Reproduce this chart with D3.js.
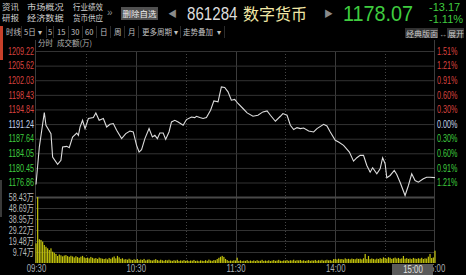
<!DOCTYPE html>
<html>
<head>
<meta charset="utf-8">
<script src="https://cdn.jsdelivr.net/npm/d3@7"></script>
<style>
body { margin: 0; background: #000; overflow: hidden; }
text { font-family: "Liberation Sans", "Noto Sans CJK SC", sans-serif; }
text.cjk { font-family: "Noto Sans CJK SC", sans-serif; }
</style>
</head>
<body>
<script>
// price line (minutes after 09:30, lunch break removed)
var lineMinutes = [0,2,5,6,9,10,13,15,16,18.5,20,22,24.5,25.5,26.5,28,29.5,31.5,34.5,36,
  38,40.5,42.5,44.5,46.5,48.5,51.5,54,56.5,58.5,60.5,62,63.5,65.5,68,70,71.5,73,74.5,76.5,
  78,80,81.5,83.5,85.5,88.5,90.5,93.5,95.5,96.5,98.5,100.5,102.5,105,107,109.5,111.5,113.5,115.5,117.5,
  119.5,121.5,124.5,127,130.5,133.5,136.5,139,141,144,147,148.5,151,153,155,157,159,161,164,167,
  169,173,175,177,180,182,185,188.5,191,193,195,197,199,201,202.5,205,207,208.5,210,211,
  213,215.5,217,219,222,224,226,228,230,233,235,237,240];
var linePrices = [1176.37,1185.58,1194.08,1190.94,1188.89,1183.11,1181.31,1182.30,1185.58,1185.75,1185.43,1188.05,1189.04,1188.47,1190.52,1192.18,1190.13,1192.60,1192.84,1193.98,
  1192.18,1192.60,1190.52,1191.19,1191.36,1189.71,1187.66,1188.89,1189.53,1189.29,1186.00,1184.35,1184.94,1187.66,1190.13,1188.05,1188.47,1187.66,1189.04,1189.04,
  1187.48,1189.29,1191.76,1192.18,1191.76,1190.94,1192.35,1192.99,1192.84,1193.16,1192.84,1192.60,1192.84,1194.65,1196.94,1196.70,1200.40,1200.25,1199.17,1197.12,
  1197.29,1196.30,1195.07,1193.98,1193.16,1193.41,1194.23,1194.47,1193.41,1191.93,1193.16,1193.83,1193.41,1190.94,1189.88,1190.37,1190.13,1190.27,1189.53,1189.29,
  1190.13,1191.19,1190.77,1189.29,1187.24,1186.82,1186.00,1184.35,1182.12,1182.96,1183.53,1183.53,1181.06,1179.40,1180.49,1179.01,1180.24,1182.96,1181.48,1178.02,
  1178.59,1179.82,1178.84,1176.93,1173.65,1176.12,1179.01,1177.35,1176.93,1177.77,1178.17,1178.17,1178.07];

// turnover per minute, 万
var volumes = [17.4,58.4,21.0,20.4,18.9,15.9,14.4,13.0,11.5,13.0,
  10.0,9.1,8.0,6.2,7.5,6.8,5.9,6.6,7.0,6.1,
  5.5,6.4,5.8,4.9,6.0,5.2,4.6,5.6,6.3,5.0,
  4.3,4.8,4.1,5.4,4.6,3.9,4.4,3.6,4.8,4.2,
  3.8,3.5,4.0,3.2,4.5,3.7,4.9,5.8,4.1,6.3,
  5.0,3.6,4.2,3.1,3.4,2.9,3.8,3.0,2.6,3.3,
  2.8,3.5,2.4,3.1,2.7,3.6,2.3,2.9,3.2,2.5,
  2.2,2.8,3.4,2.6,2.1,2.9,2.4,2.0,2.7,2.3,
  2.9,2.2,1.9,2.5,2.1,2.8,1.8,2.3,2.0,2.6,
  1.9,2.4,1.7,2.2,2.0,2.7,1.8,2.1,1.6,2.3,
  2.0,1.8,2.5,1.9,3.0,2.2,1.9,2.6,2.4,3.5,
  4.6,5.5,6.3,5.4,3.6,2.6,1.8,2.2,1.9,2.4,
  2.2,4.7,1.8,2.4,1.7,2.1,1.9,2.6,1.6,2.2,
  1.8,2.3,1.7,2.5,1.9,2.0,2.8,1.8,2.2,1.9,
  2.4,1.7,2.1,2.6,1.9,2.2,2.8,2.0,1.8,2.3,
  2.1,2.6,1.9,2.4,2.2,2.9,2.0,2.5,2.3,2.7,
  2.0,2.4,1.8,2.2,2.6,1.9,2.3,2.1,2.7,2.0,
  2.5,2.2,2.8,2.1,2.4,2.9,2.3,2.6,2.0,3.4,
  3.6,3.1,3.8,3.3,3.5,3.0,4.1,3.4,3.7,3.2,
  3.9,3.5,3.3,4.0,3.6,3.8,3.2,4.2,8.0,3.5,
  6.2,3.4,4.0,3.6,3.1,3.9,3.5,4.3,3.7,5.0,
  4.4,3.8,5.1,4.6,3.6,4.2,4.8,3.9,4.5,3.7,
  4.1,6.2,3.8,4.3,3.6,4.0,3.4,4.5,3.9,3.6,
  4.2,3.8,4.6,3.5,4.1,3.9,5.6,8.0,4.4,4.9,
  10.9];

var prevClose = 1191.24;
var priceTicks = [1209.22,1205.62,1202.03,1198.43,1194.84,1191.24,1187.64,1184.05,1180.45,1176.86];
var pctLabels = ["1.51%","1.21%","0.91%","0.60%","0.30%","0.00%","0.30%","0.60%","0.91%","1.21%"];
var volTicks = [58.43,48.69,38.95,29.22,19.48,9.74];
var timeTicks = [0,60,120,180,240];
var timeLabels = ["09:30","10:30","11:30","14:00","15:00"];
var halfHours = [30,60,90,120,150,180,210];

var red = "#d8433f", green = "#3fcc3f", flat = "#c4d4ec";

var svg = d3.select("body").append("svg")
    .attr("width", 466)
    .attr("height", 275);

var left = 36, right = 435;

var x = d3.scaleLinear().domain([0, 240]).range([left, right]);
var yPrice = d3.scaleLinear().domain([1176.86, 1209.22]).range([182.5, 51]);
var yVol = d3.scaleLinear().domain([0, 58.43]).range([263, 197]);

// squeeze text horizontally, the terminal font is narrow
function narrow(sel, k) {
  sel.each(function() {
    var w = this.getComputedTextLength();
    d3.select(this).attr("textLength", w * k).attr("lengthAdjust", "spacingAndGlyphs");
  });
}

function label(t, px, py, size, fill, cls) {
  return svg.append("text")
    .attr("class", cls || null)
    .attr("x", px).attr("y", py)
    .attr("fill", fill)
    .style("font-size", size + "px")
    .text(t);
}

// ---- header ----
label("资讯", 2, 9.5, 8.5, "#d0d0d0", "cjk");
label("研报", 2, 21, 8.5, "#d0d0d0", "cjk");
narrow(label("市场概况", 27, 9.5, 8.5, "#d0d0d0", "cjk"), 1.08);
narrow(label("经济数据", 27, 21, 8.5, "#d0d0d0", "cjk"), 1.08);
narrow(label("行业绩效", 73, 9.5, 8.5, "#d0d0d0", "cjk"), 0.88);
narrow(label("货币供应", 73, 21, 8.5, "#d0d0d0", "cjk"), 0.88);
label("»", 107, 16, 10, "#8a8a8a");

svg.append("rect").attr("x", 121).attr("y", 7).attr("width", 37).attr("height", 13).attr("fill", "#505050");
label("删除自选", 139.5, 17, 8.5, "#eeeeee", "cjk").attr("text-anchor", "middle");
label("◀", 168, 17, 9, "#8a8a8a");
narrow(label("861284", 187, 19.5, 18, "#dcdcdc"), 0.84);
label("数字货币", 243, 19.5, 16, "#f2e8a6", "cjk");
label("▶", 324, 17, 9, "#8a8a8a");
narrow(label("1178.07", 343, 20.5, 22, green), 0.9);
label("-13.17", 429, 10.5, 11, green);
label("-1.11%", 429, 22.5, 11, green);

// period tabs
svg.append("rect").attr("x", 0).attr("y", 26).attr("width", 3).attr("height", 34).attr("fill", "#c8402a");
var tabSeps = [21, 46, 53, 68, 82, 96, 110, 124, 138, 180, 224];
svg.selectAll(".tabsep").data(tabSeps).enter().append("line")
    .attr("x1", function(d) { return d + 0.5; }).attr("x2", function(d) { return d + 0.5; })
    .attr("y1", 26).attr("y2", 38)
    .attr("stroke", "#2c2c2c");
var tabs = [["时线",6],["5日",24],["▾",38],["5",48],["15",57],["30",71],["60",85],["日",100],["周",114],["月",128],
            ["更多周期",142],["▾",174],["走势叠加",183],["▾",217]];
tabs.forEach(function(t) { label(t[0], t[1], 35, 7.5, "#c0c0c0", "cjk"); });

svg.append("rect").attr("x", 405).attr("y", 28).attr("width", 33).attr("height", 10).attr("fill", "#303030");
label("经典版面", 406, 36.5, 8, "#c8c8c8", "cjk");
label("↔", 439, 36.5, 8, "#a0a0a0");
svg.append("rect").attr("x", 447).attr("y", 28).attr("width", 17).attr("height", 10).attr("fill", "#303030");
label("展开", 448, 36.5, 8, "#c8c8c8", "cjk");

label("分时", 38, 45.5, 7.5, "#b0b0b0", "cjk");
label("成交额(万)", 57, 45.5, 7.5, "#b0b0b0", "cjk");

svg.append("rect").attr("x", 0).attr("y", 180).attr("width", 2).attr("height", 37).attr("fill", "#3a3a3a");

// ---- grid & axes ----
svg.selectAll(".vgrid").data(halfHours).enter().append("line")
    .attr("x1", function(d) { return Math.round(x(d)) + 0.5; })
    .attr("x2", function(d) { return Math.round(x(d)) + 0.5; })
    .attr("y1", 51).attr("y2", 263)
    .attr("stroke", function(d) { return d % 60 == 0 ? "#3c3c3c" : "#444"; })
    .attr("stroke-dasharray", function(d) { return d % 60 == 0 ? null : "1,2"; });

var priceAxis = svg.append("g")
    .attr("transform", "translate(" + left + ",0)")
    .call(d3.axisLeft(yPrice).tickValues(priceTicks).tickSize(-(right - left)).tickPadding(2)
      .tickFormat(d3.format(".2f")));
priceAxis.select(".domain").remove();
priceAxis.selectAll("line").attr("stroke", "#333");
priceAxis.selectAll("text")
    .attr("fill", function(d) { return d > prevClose ? red : d < prevClose ? green : flat; })
    .style("font-size", "10px")
    .call(narrow, 0.72);

var pctAxis = svg.append("g")
    .attr("transform", "translate(" + right + ",0)")
    .call(d3.axisRight(yPrice).tickValues(priceTicks).tickSize(0).tickPadding(2)
      .tickFormat(function(d, i) { return pctLabels[i]; }));
pctAxis.select(".domain").remove();
pctAxis.selectAll("text")
    .attr("fill", function(d) { return d > prevClose ? red : d < prevClose ? green : flat; })
    .style("font-size", "10px")
    .call(narrow, 0.72);

var volAxis = svg.append("g")
    .attr("transform", "translate(" + left + ",0)")
    .call(d3.axisLeft(yVol).tickValues(volTicks).tickSize(-(right - left)).tickPadding(2)
      .tickFormat(function(d) { return d.toFixed(2) + "万"; }));
volAxis.select(".domain").remove();
volAxis.selectAll("line")
    .attr("stroke", function(d) { return d == volTicks[0] ? "#484848" : "#333"; })
    .attr("stroke-width", function(d) { return d == volTicks[0] ? 2 : 1; });
volAxis.selectAll("text")
    .attr("fill", "#b8b8b8")
    .style("font-size", "10px")
    .call(narrow, 0.72);

// borders
[left - 0.5, right - 0.5].forEach(function(bx) {
  svg.append("line").attr("x1", bx).attr("x2", bx).attr("y1", 40).attr("y2", 263).attr("stroke", "#3c3c3c");
});

// ---- volume bars ----
svg.append("g").selectAll("rect")
    .data(volumes)
    .enter().append("rect")
    .attr("x", function(d, i) { return x(i) - 0.6; })
    .attr("width", 1.2)
    .attr("y", function(d) { return yVol(d); })
    .attr("height", function(d) { return yVol(0) - yVol(d); })
    .attr("fill", "#c4c40c");

// ---- price line ----
var pts = lineMinutes.map(function(m, i) { return {m: m, p: linePrices[i]}; });
var line = d3.line()
    .x(function(d) { return x(d.m); })
    .y(function(d) { return yPrice(d.p); });
svg.append("path")
    .datum(pts)
    .attr("d", line)
    .attr("fill", "none")
    .attr("stroke", "#dcdcdc")
    .attr("stroke-width", 1.1);

// ---- time axis ----
var timeAxis = svg.append("g")
    .attr("transform", "translate(0,263)")
    .call(d3.axisBottom(x).tickValues(timeTicks).tickSize(0).tickPadding(2)
      .tickFormat(function(d, i) { return timeLabels[i]; }));
timeAxis.select(".domain").remove();
timeAxis.selectAll("text")
    .attr("fill", "#a8aeb6")
    .style("font-size", "10px")
    .call(narrow, 0.78);

// crosshair time tag
svg.append("rect").attr("x", 392).attr("y", 264).attr("width", 41).attr("height", 11).attr("fill", "#5a5a5a");
narrow(label("15:00", 413, 272.5, 10, "#e2e2e2").attr("text-anchor", "middle"), 0.78);
</script>
</body>
</html>
